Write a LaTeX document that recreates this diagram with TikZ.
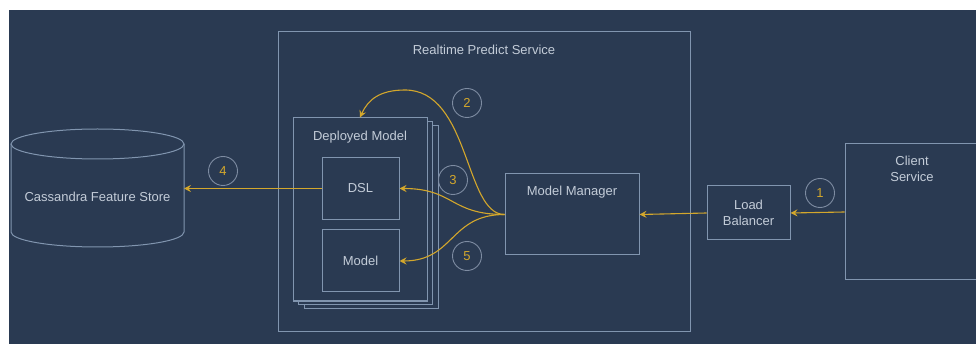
\documentclass[tikz,border=0pt]{standalone}
\usepackage{fontspec}
\setmainfont{Liberation Sans}
\usepackage{tikz}
\usepackage{xcolor}
\usetikzlibrary{
    arrows.meta,
    positioning,
    calc
}
\definecolor{navy}{HTML}{2A3A52}
\definecolor{edgeline}{HTML}{8195AF}
\definecolor{ring}{HTML}{7E8CA2}
\definecolor{txt}{HTML}{C3CCD8}
\definecolor{gold}{HTML}{D3A72C}
\tikzset{bx/.style={draw=edgeline, line width=1pt, fill=navy, inner sep=0pt}}
\tikzset{lbl/.style={text=txt, font=\fontsize{13}{15.6}\selectfont, align=center, inner sep=0pt}}
\tikzset{num/.style={circle, draw=ring, line width=0.9pt, minimum size=29pt, inner sep=0pt, text=gold, font=\fontsize{13}{15.6}\selectfont}}
\tikzset{flow/.style={draw=gold, line width=1.1pt, -{Stealth[length=7pt, width=7pt, inset=2.5pt]}}}

\begin{document}
\begin{tikzpicture}[x=1pt, y=-1pt]
    \fill[white] (0, 0) rectangle (976, 344);
    \fill[navy] (9, 10) rectangle (976, 344);
    \useasboundingbox (0, 0) rectangle (976, 344);

    \node[bx, minimum width=412pt, minimum height=299pt] (rps) at (484, 181.5) {};
    \node[lbl, below=13.5pt of rps.north] {Realtime Predict Service};

    \foreach \d in {11, 5.5}
        \node[bx, minimum width=134pt, minimum height=183pt] at ($(360, 209.5) + (\d, 0.7*\d)$) {};
    \node[bx, minimum width=134pt, minimum height=183pt] (dm) at (360, 209.5) {};
    \node[lbl, below=13.5pt of dm.north] {Deployed Model};
    \node[bx, lbl, minimum width=77pt, minimum height=62pt] (dsl) at (360.5, 188.5) {DSL};
    \node[bx, lbl, minimum width=77pt, minimum height=62pt] (mdl) at (360.5, 261) {Model};

    \node[bx, minimum width=134pt, minimum height=81pt] (mm) at (572, 214.5) {};
    \node[lbl, below=12.5pt of mm.north] {Model Manager};
    \node[bx, lbl, minimum width=83pt, minimum height=54pt] (lb) at (748.5, 213) {Load\\Balancer};
    \node[bx, minimum width=134pt, minimum height=136pt] (cs) at (912, 212) {};
    \node[lbl, below=12.5pt of cs.north] {Client\\Service};

    \draw[edgeline, line width=1pt] (11, 144) -- (11, 232)
        arc[start angle=180, end angle=0, x radius=86.5, y radius=15] -- (184, 144);
    \draw[edgeline, line width=1pt] (97.5, 144) ellipse [x radius=86.5, y radius=15];
    \coordinate (cfs) at (184, 188.5);
    \node[lbl] (cfslbl) at (97.5, 196.5) {Cassandra Feature Store};

    \node[num] (n1) at (820, 193) {1};
    \node[num] (n2) at (467, 103) {2};
    \node[num] (n3) at (453, 180) {3};
    \node[num] (n4) at (223, 171) {4};
    \node[num] (n5) at (467, 256) {5};

    \coordinate (pk) at (405, 90);
    \draw[flow] (cs.west) -- (lb.east);
    \draw[flow] (lb.west) -- (mm.east);
    \draw[flow] (mm.west) .. controls +(-40, 0) and +(65, 0) .. (pk)
        .. controls +(-25, 0) and +(8, -18) .. (dm.north);
    \draw[flow] (mm.west) .. controls +(-55, 0) and +(55, 0) .. (dsl.east);
    \draw[flow] (mm.west) .. controls +(-55, 0) and +(55, 0) .. (mdl.east);
    \draw[flow] (dsl.west) -- (cfs);
\end{tikzpicture}
\end{document}
